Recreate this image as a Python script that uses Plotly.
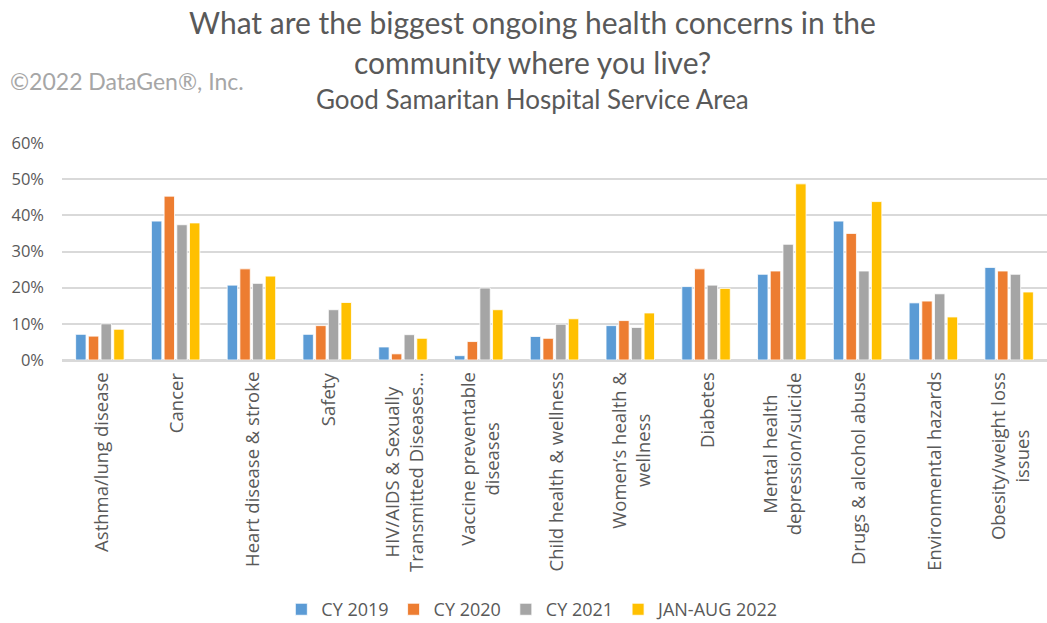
import plotly.graph_objects as go

categories = [
    "Asthma/lung disease",
    "Cancer",
    "Heart disease & stroke",
    "Safety",
    "HIV/AIDS & Sexually<br>Transmitted Diseases…",
    "Vaccine preventable<br>diseases",
    "Child health & wellness",
    "Women’s health &<br>wellness",
    "Diabetes",
    "Mental health<br>depression/suicide",
    "Drugs & alcohol abuse",
    "Environmental hazards",
    "Obesity/weight loss<br>issues",
]

cy2019 = [0.071, 0.384, 0.207, 0.071, 0.036, 0.012, 0.065, 0.095, 0.203, 0.237, 0.384, 0.158, 0.256]
cy2020 = [0.066, 0.453, 0.252, 0.095, 0.017, 0.051, 0.060, 0.109, 0.252, 0.246, 0.350, 0.163, 0.246]
cy2021 = [0.100, 0.374, 0.212, 0.139, 0.070, 0.199, 0.099, 0.090, 0.207, 0.320, 0.246, 0.183, 0.237]
jan_aug_2022 = [0.085, 0.379, 0.232, 0.159, 0.060, 0.139, 0.114, 0.130, 0.198, 0.487, 0.438, 0.119, 0.188]

series = [
    ("CY 2019", cy2019, "#5B9BD5"),
    ("CY 2020", cy2020, "#ED7D31"),
    ("CY 2021", cy2021, "#A5A5A5"),
    ("JAN-AUG 2022", jan_aug_2022, "#FFC000"),
]

y_ticks = [0, 0.1, 0.2, 0.3, 0.4, 0.5, 0.6]

fig = go.Figure()
for name, vals, color in series:
    fig.add_trace(go.Bar(
        x=categories, y=vals, name=name,
        marker=dict(color=color, line=dict(color="white", width=0.8)),
    ))

text_gray = "#595959"

fig.update_layout(
    width=1047, height=623,
    margin=dict(l=62, r=0, t=143, b=263, autoexpand=False),
    paper_bgcolor="white", plot_bgcolor="white",
    barmode="group", bargap=0.33, bargroupgap=0.18,
    font=dict(family="Open Sans", color=text_gray),
    showlegend=True,
    legend=dict(
        orientation="h", x=0.478, xanchor="center", y=-1.15, yanchor="middle",
        font=dict(size=18, color=text_gray), itemwidth=30,
        traceorder="normal",
    ),
    xaxis=dict(
        showticklabels=False,
        showgrid=False, showline=True, linecolor="#D9D9D9", linewidth=1.5,
        ticks="", automargin=False,
    ),
    yaxis=dict(
        range=[0, 0.6], tickvals=y_ticks, tickformat=".0%",
        tickfont=dict(size=16.5, color=text_gray),
        showgrid=True, gridcolor="#D9D9D9", gridwidth=1.5,
        zeroline=True, zerolinecolor="#D9D9D9", zerolinewidth=1.5,
        showline=False, ticks="", automargin=False, ticklabelstandoff=17,
    ),
)

# Category labels: rotated, with wrapped lines centred on each other
for cat in categories:
    fig.add_annotation(
        text=cat, x=cat, xref="x", y=0, yref="paper",
        xanchor="center", yanchor="top", yshift=-10,
        textangle=-90, align="center", showarrow=False,
        font=dict(family="Open Sans", size=18.5, color=text_gray),
    )

title_x = 0.478
title_font = dict(family="Lato", size=30, color=text_gray)
fig.add_annotation(text="What are the biggest ongoing health concerns in the",
                   xref="paper", yref="paper", x=title_x, y=1.0, xanchor="center", yanchor="middle",
                   yshift=143 - 22, showarrow=False, font=title_font)
fig.add_annotation(text="community where you live?",
                   xref="paper", yref="paper", x=title_x, y=1.0, xanchor="center", yanchor="middle",
                   yshift=143 - 62, showarrow=False, font=title_font)
fig.add_annotation(text="Good Samaritan Hospital Service Area",
                   xref="paper", yref="paper", x=title_x, y=1.0, xanchor="center", yanchor="middle",
                   yshift=143 - 99, showarrow=False,
                   font=dict(family="Lato", size=26, color=text_gray))
fig.add_annotation(text="©2022 DataGen®, Inc.",
                   xref="paper", yref="paper", x=0, y=1.0, xanchor="left", yanchor="middle",
                   xshift=-62 + 8, yshift=143 - 81, showarrow=False,
                   font=dict(family="Lato", size=23, color="#A6A6A6"))

fig.write_html("out.html")
